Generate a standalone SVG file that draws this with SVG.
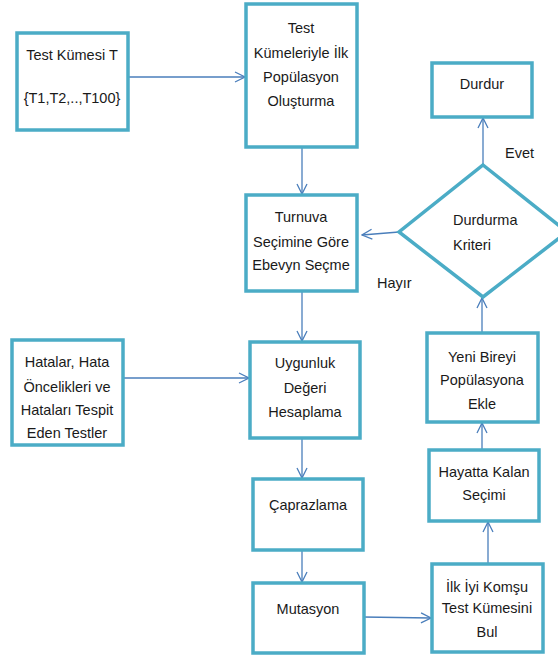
<svg xmlns="http://www.w3.org/2000/svg" width="558" height="659" viewBox="0 0 558 659">
<defs>
<style>
.box{fill:#fff;stroke:#4BACC6;stroke-width:3.5}
.t{font-family:"Liberation Sans",Arial,sans-serif;font-size:14.5px;fill:#1a1a1a;text-anchor:middle}
.l{font-family:"Liberation Sans",Arial,sans-serif;font-size:14.5px;fill:#1a1a1a}
.c{fill:none;stroke:#4A7EBB;stroke-width:1.3;marker-end:url(#ah)}
</style>
<marker id="ah" viewBox="0 0 12 12" refX="11" refY="6" markerWidth="12" markerHeight="12" markerUnits="userSpaceOnUse" orient="auto">
<path d="M1,1 L11,6 L1,11" fill="none" stroke="#4A7EBB" stroke-width="1.3"/>
</marker>
</defs>
<rect width="558" height="659" fill="#fff"/>
<g id="connectors">
<line class="c" x1="128" y1="77" x2="245" y2="77"/>
<line class="c" x1="302" y1="147" x2="302" y2="194"/>
<line class="c" x1="302" y1="291" x2="302" y2="341"/>
<line class="c" x1="123" y1="378" x2="249" y2="378"/>
<line class="c" x1="302" y1="438" x2="302" y2="478"/>
<line class="c" x1="302" y1="550" x2="302" y2="582"/>
<line class="c" x1="363" y1="617" x2="431" y2="618"/>
<line class="c" x1="488" y1="564" x2="488" y2="522"/>
<line class="c" x1="482" y1="450" x2="482" y2="423"/>
<line class="c" x1="482" y1="333" x2="482" y2="298"/>
<line class="c" x1="483" y1="165" x2="483" y2="118"/>
<line class="c" x1="399" y1="232" x2="362" y2="235"/>
</g>
<g id="n1">
<rect class="box" x="17" y="33" width="111" height="97"/>
<text class="t" x="72" y="60">Test Kümesi T</text>
<text class="t" x="72" y="103">{T1,T2,..,T100}</text>
</g>
<g id="n2">
<rect class="box" x="246" y="4" width="111" height="143"/>
<text class="t" x="301" y="33">Test</text>
<text class="t" x="301" y="58">Kümeleriyle İlk</text>
<text class="t" x="301" y="82">Popülasyon</text>
<text class="t" x="301" y="106">Oluşturma</text>
</g>
<g id="n3">
<rect class="box" x="246" y="195" width="111" height="96"/>
<text class="t" x="301" y="222">Turnuva</text>
<text class="t" x="301" y="247">Seçimine Göre</text>
<text class="t" x="301" y="270">Ebevyn Seçme</text>
</g>
<g id="n4">
<rect class="box" x="12" y="340" width="111" height="105"/>
<text class="t" x="67" y="367">Hatalar, Hata</text>
<text class="t" x="67" y="392">Öncelikleri ve</text>
<text class="t" x="67" y="415">Hataları Tespit</text>
<text class="t" x="67" y="438">Eden Testler</text>
</g>
<g id="n5">
<rect class="box" x="250" y="342" width="110" height="96"/>
<text class="t" x="305" y="368">Uygunluk</text>
<text class="t" x="305" y="393">Değeri</text>
<text class="t" x="305" y="417">Hesaplama</text>
</g>
<g id="n6">
<rect class="box" x="253" y="479" width="110" height="71"/>
<text class="t" x="308" y="510">Çaprazlama</text>
</g>
<g id="n7">
<rect class="box" x="253" y="583" width="111" height="70"/>
<text class="t" x="308" y="614">Mutasyon</text>
</g>
<g id="n8">
<rect class="box" x="432" y="564" width="111" height="88"/>
<text class="t" x="487" y="592">İlk İyi Komşu</text>
<text class="t" x="487" y="613">Test Kümesini</text>
<text class="t" x="487" y="637">Bul</text>
</g>
<g id="n9">
<rect class="box" x="429" y="450" width="110" height="71"/>
<text class="t" x="484" y="477">Hayatta Kalan</text>
<text class="t" x="484" y="500">Seçimi</text>
</g>
<g id="n10">
<rect class="box" x="427" y="333" width="111" height="89"/>
<text class="t" x="482" y="362">Yeni Bireyi</text>
<text class="t" x="482" y="385">Popülasyona</text>
<text class="t" x="482" y="409">Ekle</text>
</g>
<g id="n11">
<polygon points="483,165 567,232 483,297 399,232" fill="#fff" stroke="#4BACC6" stroke-width="3.5"/>
<text class="l" x="453" y="225">Durdurma</text>
<text class="l" x="453" y="250">Kriteri</text>
</g>
<g id="n12">
<rect class="box" x="432" y="63" width="100" height="54"/>
<text class="t" x="482" y="89">Durdur</text>
</g>
<text class="l" x="505" y="158">Evet</text>
<text class="l" x="377" y="288">Hayır</text>
</svg>
